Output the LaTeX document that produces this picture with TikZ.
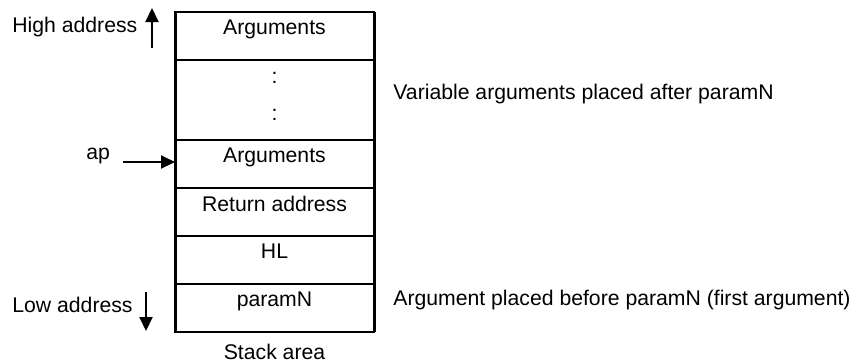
\documentclass[tikz,border=0pt]{standalone}
\usepackage{fontspec}
\setmainfont{Liberation Sans}
\usetikzlibrary{positioning,arrows.meta}

\tikzset{
  cell/.style={draw, line width=1pt, minimum width=99.5pt, minimum height=24pt, inner sep=0pt,
    outer sep=0pt, label={[anchor=north, inner sep=0pt, yshift=-3.7pt]north:#1}},
  txt/.style={anchor=base west, inner sep=0pt},
  addr/.style={-{Triangle[length=7pt, width=6.5pt]}, line width=1pt}
}

\begin{document}
\begin{tikzpicture}[x=0.5pt, y=-0.5pt, font=\fontsize{10.6}{12.7}\selectfont]
  \useasboundingbox (0,0) rectangle (856,361);
  % Stack cells
  \node[cell=Arguments] (r1) at (274.5,36) {};
  \node[cell={}, minimum height=40pt, below=0pt of r1] (r2) {};
  \node[cell=Arguments, below=0pt of r2] (r3) {};
  \node[cell=Return address, below=0pt of r3] (r4) {};
  \node[cell=HL, below=0pt of r4] (r5) {};
  \node[cell=paramN, below=0pt of r5] (r6) {};
  \node (dot1) at ([yshift=-9pt]r2.north) {:};
  \node (dot2) at ([yshift=-27.5pt]r2.north) {:};
  \draw[line width=1.5pt] (r1.north west) -- (r6.south west)
                          (r1.north east) -- (r6.south east);
  \node[anchor=base, inner sep=0pt] (stack) at (274.5,359) {Stack area};
  % Addresses
  \node[txt] (hi) at (12,32) {High address};
  \node[txt] (lo) at (12,312) {Low address};
  \node[txt] (ap) at (86,159) {ap};
  \coordinate (hi-tail) at (152,48);
  \coordinate (hi-tip) at (152,8);
  \coordinate (lo-tail) at (146,292);
  \coordinate (lo-tip) at (146,331);
  \coordinate (ap-tail) at (123,162);
  \draw[addr] (hi-tail) -- (hi-tip);
  \draw[addr] (lo-tail) -- (lo-tip);
  \draw[addr] (ap-tail) -- (ap-tail -| r3.west);
  % Notes
  \node[txt] (var) at (393,99) {Variable arguments placed after paramN};
  \node[txt] (first) at (393,305) {Argument placed before paramN (first argument)};
\end{tikzpicture}
\end{document}
